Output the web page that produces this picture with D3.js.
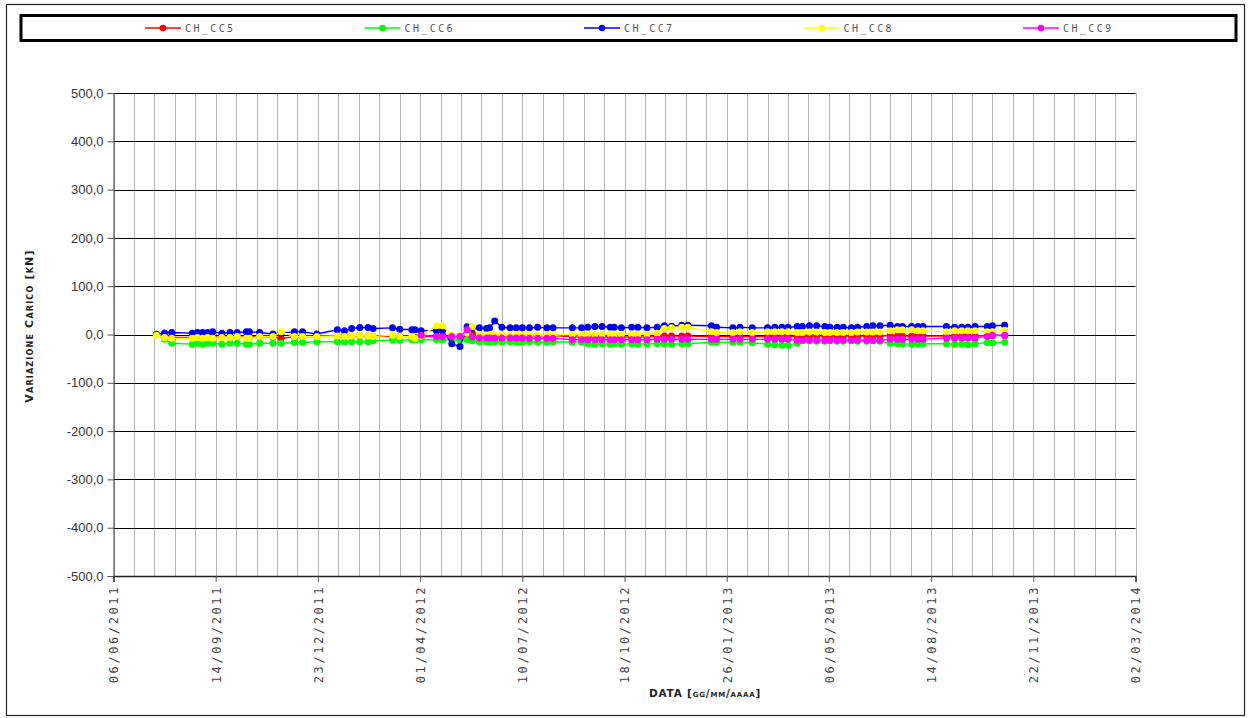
<!DOCTYPE html>
<html><head><meta charset="utf-8">
<script src="https://cdn.jsdelivr.net/npm/d3@7"></script>
<style>
html,body{margin:0;padding:0;background:#fff;}
svg{display:block;}
</style></head>
<body>
<svg id="chart" width="1249" height="718"></svg>
<script>
const seriesNames = ["CH_CC5","CH_CC6","CH_CC7","CH_CC8","CH_CC9"];
const seriesColors = ["#ff0000","#00ff00","#0000ff","#ffff00","#ff00ff"];
const yTicks = [-500,-400,-300,-200,-100,0,100,200,300,400,500];
const xTickDates = ["2011-06-06","2011-09-14","2011-12-23","2012-04-01","2012-07-10","2012-10-18","2013-01-26","2013-05-06","2013-08-14","2013-11-22","2014-03-02"];
const yTitle = "Variazione Carico [kN]";
const xTitle = "DATA [gg/mm/aaaa]";

const dates = [
"2011-07-18","2011-07-26","2011-08-02","2011-08-22","2011-08-27","2011-09-01","2011-09-06","2011-09-11","2011-09-20","2011-09-28",
"2011-10-05","2011-10-14","2011-10-17","2011-10-27","2011-11-09","2011-11-17","2011-11-30","2011-12-08","2011-12-22","2012-01-11",
"2012-01-18","2012-01-25","2012-02-02","2012-02-10","2012-02-15","2012-03-05","2012-03-12","2012-03-24","2012-03-27","2012-04-02",
"2012-04-17","2012-04-23","2012-05-02","2012-05-10","2012-05-17","2012-05-22","2012-05-29","2012-06-05","2012-06-08","2012-06-13",
"2012-06-20","2012-06-28","2012-07-04","2012-07-10","2012-07-17","2012-07-25","2012-08-03","2012-08-09","2012-08-28","2012-09-06",
"2012-09-12","2012-09-19","2012-09-26","2012-10-04","2012-10-08","2012-10-15","2012-10-25","2012-10-31","2012-11-09","2012-11-19",
"2012-11-26","2012-12-03","2012-12-13","2012-12-19","2013-01-11","2013-01-16","2013-02-01","2013-02-08","2013-02-20","2013-03-07",
"2013-03-14","2013-03-21","2013-03-27","2013-04-05","2013-04-10","2013-04-17","2013-04-24","2013-05-02","2013-05-07","2013-05-14",
"2013-05-20","2013-05-28","2013-06-03","2013-06-12","2013-06-18","2013-06-25","2013-07-05","2013-07-12","2013-07-17","2013-07-26",
"2013-08-01","2013-08-06","2013-08-29","2013-09-06","2013-09-13","2013-09-19","2013-09-26","2013-10-08","2013-10-13","2013-10-25"
];

const cc5 = [
0,-5,-6,-6,-5,-6,-5,-6,-5,-6,
-4,-6,-5,-4,-5,-7.6,-5,-4,-4,-3,
-3,-3,-2,-3,-4,-3,-4,-4,-6,-5,
-4,-4,-3,-4,-2,3,-2,-2,-3,-2,
-2,-3,-2,-2,-3,-2,-3,-2,-5,-5,
-5,-5,-5,-4,-5,-5,-5,-5,-5,-3,
-3,-3,-3,-3,-4,-4,-4,-4,-4,-4,
-4,-4,-4,-3,-3,-3,-3,-3,-3,-3,
-3,-3,-3,-3,-3,-3,-2,-3,-3,-3,
-3,-3,-3,-3,-3,-3,-3,-2,-2,-2
];
const cc6 = [
0,-10,-18,-20,-18,-20,-18,-18,-20,-18,
-18,-20,-20,-18,-18,-18,-16.6,-16.6,-15,-15,
-15,-15,-15,-15,-13,-12,-12,-11,-11,-11,
-11,-11,-11,-12,-11,-13,-15,-15,-16,-15,
-16,-15,-16,-16,-15,-16,-16,-15,-16,-16,
-19,-20,-19,-20,-19,-20,-19,-20,-19,-19,
-19,-20,-19,-19,-16,-16,-16,-16,-17,-20,
-21,-22,-22,-18,-13,-13,-14,-14,-13,-14,
-14,-13,-14,-14,-13,-14,-18,-19,-19,-20,
-20,-19,-19,-20,-20,-21,-19,-17,-17,-16
];
const cc7 = [
0.5,3,4,2.8,4,4,4,5.5,2.8,4,
4,5.5,5.5,4,1,3,5.5,5.5,1,9.7,
7.6,12.4,14.5,14.5,12.4,13.8,11,9.7,9.7,8,
8,8,-19,-25,16,12,13.8,12.4,13.8,28,
15,13.8,13.8,13.8,13.8,15,13.8,13.8,13.8,13.8,
15,16.6,16.6,15,15,13.8,15,15,13.8,15,
18,17,19,19,18,15,13.8,15,13.8,13.8,
15,15,15,16.6,16.6,18,18,16.6,15,15,
15,13.8,15,16.6,18,18,19,16.6,16.6,16.6,
16.6,16.6,16.6,15,15,15,16.6,16.6,18,19
];
const cc8 = [
-1.4,-6,-8,-8,-6,-8,-6,-8,-6,-6,
-4,-8,-8,-4,-4,5.5,-4,-4,-4,-3,
-4,-3,-1.4,-3,-4,-1.4,-4,-4,-8,-3,
18,18,-2,-3,3,16.5,-1,-1,-1,0,
-1,-2,-1,-1,-1,-1,-2,-1,0,-1,
0.5,0.5,0.5,1,0.5,0.5,1,0.5,0.5,2.8,
12.4,14,15,15,5.5,4,4,5.5,4,5.5,
5.5,5.5,5.5,4,4,5,5,4,4,4,
4,4,5,5,5,5,7.6,9.7,9.7,9.7,
7.6,7.6,5.5,7.6,7.6,7.6,7.6,5.5,5.5,9
];
const cc9 = [
null,null,null,null,null,null,null,null,null,null,
null,null,null,null,null,null,null,null,null,null,
null,null,null,null,null,null,null,null,null,-1.4,
-4,-4,-4,-4,10,-5,-7,-7,-7,-7,
-7,-7,-7,-7,-8,-8,-8,-8,-11,-11,
-11,-11,-11,-11,-11,-11,-11,-11,-11,-9.7,
-9.7,-9.7,-9.7,-9.7,-10,-10,-10,-10,-10,-10,
-10,-10,-10,-12,-12,-12,-12,-12,-12,-12,
-12,-12,-12,-12,-12,-12,-10,-10,-10,-10,
-10,-10,-7,-7,-7,-7,-7,-4,-1.4,-1.4
];
const seriesValues = [cc5, cc6, cc7, cc8, cc9];

const parse = d3.utcParse("%Y-%m-%d");
const svg = d3.select("#chart");

const plotL = 113.5, plotR = 1135.5, plotT = 93, plotB = 576;
const x = d3.scaleUtc().domain([parse(xTickDates[0]), parse(xTickDates[xTickDates.length-1])]).range([plotL, plotR]);
const y = d3.scaleLinear().domain([-500, 500]).range([plotB, plotT]);

// outer frame
svg.append("rect").attr("x",6.5).attr("y",4.5).attr("width",1238).attr("height",711)
  .attr("fill","none").attr("stroke","#222").attr("stroke-width",1.2);

// legend box
svg.append("rect").attr("x",21).attr("y",15.5).attr("width",1215).attr("height",25)
  .attr("fill","#fff").attr("stroke","#000").attr("stroke-width",3);

const leg = svg.append("g");
seriesNames.forEach((n, i) => {
  const lx = 145 + i * 219.5;
  const g = leg.append("g").attr("transform", `translate(${lx},28)`);
  g.append("line").attr("x1",0).attr("x2",36).attr("y1",0).attr("y2",0)
    .attr("stroke",seriesColors[i]).attr("stroke-width",1.5);
  g.append("circle").attr("cx",18).attr("cy",0).attr("r",3.3).attr("fill",seriesColors[i]);
  g.append("text").attr("x",40).attr("y",4).text(n)
    .attr("font-family","DejaVu Sans Mono").attr("font-size",10).attr("letter-spacing","2.4px")
    .attr("fill","#555");
});

// vertical minor grid every 20 days
const start = parse(xTickDates[0]);
const vgrid = d3.range(0, 1001, 20).map(d => d3.utcDay.offset(start, d));
svg.append("g").selectAll("line").data(vgrid).join("line")
  .attr("x1", d => Math.round(x(d)) + 0.5).attr("x2", d => Math.round(x(d)) + 0.5)
  .attr("y1", plotT).attr("y2", plotB)
  .attr("stroke", "#b4b4b4").attr("stroke-width", 1);

// horizontal grid
svg.append("g").selectAll("line").data(yTicks).join("line")
  .attr("x1", plotL).attr("x2", plotR)
  .attr("y1", d => Math.round(y(d)) + 0.5).attr("y2", d => Math.round(y(d)) + 0.5)
  .attr("stroke", "#000").attr("stroke-width", 1);

// y axis
const loc = d3.formatLocale({decimal: ",", thousands: ".", grouping: [3], currency: ["", "€"], minus: "-"});
const fmt = loc.format(".1f");
const yAxis = svg.append("g").attr("transform", `translate(${plotL},0)`)
  .call(d3.axisLeft(y).tickValues(yTicks).tickSize(6).tickPadding(4).tickFormat(fmt));
yAxis.select(".domain").attr("stroke", "#555").attr("stroke-width", 1.2);
yAxis.selectAll(".tick line").attr("stroke", "#555");
yAxis.selectAll(".tick text").attr("font-family", "Liberation Sans, Arial, sans-serif")
  .attr("font-size", 13).attr("fill", "#333");

// x axis
const xAxis = svg.append("g").attr("transform", `translate(0,${plotB})`)
  .call(d3.axisBottom(x).tickValues(xTickDates.map(parse)).tickSize(6).tickFormat(d3.utcFormat("%d/%m/%Y")));
xAxis.select(".domain").attr("stroke", "#222").attr("stroke-width", 1.5);
xAxis.selectAll(".tick line").attr("stroke", "#555");
xAxis.selectAll(".tick text")
  .attr("font-family", "DejaVu Sans Mono").attr("font-size", 12).attr("letter-spacing", "2.6px")
  .attr("fill", "#444").attr("text-anchor", "end")
  .attr("transform", "rotate(-90)").attr("x", -9).attr("y", 0).attr("dy", "0.36em");

// axis titles
svg.append("text").attr("transform", "translate(33,326) rotate(-90)")
  .attr("text-anchor", "middle").text(yTitle)
  .attr("font-family", "DejaVu Sans").attr("font-weight", "bold").attr("font-size", 11)
  .attr("font-variant", "small-caps").attr("letter-spacing", "1.2px").attr("fill", "#222");
svg.append("text").attr("x", 705).attr("y", 697).attr("text-anchor", "middle").text(xTitle)
  .attr("font-family", "DejaVu Sans").attr("font-weight", "bold").attr("font-size", 10.5)
  .attr("font-variant", "small-caps").attr("letter-spacing", "0.8px").attr("fill", "#222");

// series
const line = d3.line().defined(d => d.v != null).x(d => x(d.t)).y(d => y(d.v));
seriesValues.forEach((vals, i) => {
  const data = dates.map((t, j) => ({t: parse(t), v: vals[j]}));
  const g = svg.append("g");
  g.append("path").datum(data).attr("d", line).attr("fill", "none")
    .attr("stroke", seriesColors[i]).attr("stroke-width", 1.4);
  g.selectAll("circle").data(data.filter(d => d.v != null)).join("circle")
    .attr("cx", d => x(d.t)).attr("cy", d => y(d.v)).attr("r", 3.5)
    .attr("fill", seriesColors[i]);
});
</script>
</body></html>
